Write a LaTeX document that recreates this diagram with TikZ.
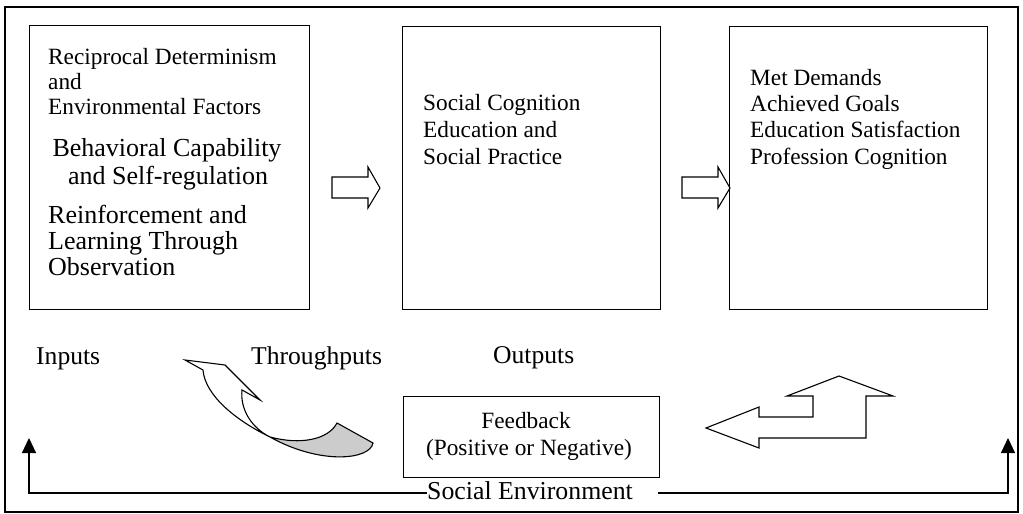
\documentclass[tikz,border=0pt]{standalone}
\usepackage{fontspec}
\setmainfont{Liberation Serif}
\usetikzlibrary{arrows.meta}
\tikzset{
  box/.style={draw, line width=1.3pt, rectangle, inner sep=0pt, anchor=north west},
  ta/.style={inner sep=0pt, anchor=base west, font=\fontsize{23.3}{27}\selectfont},
  tb/.style={inner sep=0pt, anchor=base west, font=\fontsize{26}{28}\selectfont},
  tbc/.style={inner sep=0pt, anchor=base, font=\fontsize{26}{28}\selectfont},
  tc/.style={inner sep=0pt, anchor=base, font=\fontsize{23.3}{27}\selectfont},
  lab/.style={inner sep=0pt, anchor=base west, font=\fontsize{25.6}{28}\selectfont},
  blockarrow/.style={draw, line width=1.1pt, line join=miter, fill=white},
  envline/.style={line width=1.1pt, -{Triangle[width=14pt,length=15pt]}},
}
\begin{document}
\begin{tikzpicture}[x=1pt,y=-1pt]
\useasboundingbox (0,0) rectangle (1023,514);
% outer frame
\draw[line width=1.3pt] (5,7) rectangle (1018,512);
% boxes
\node[box, minimum width=280pt, minimum height=284pt] (inbox) at (29,25) {};
\node[box, minimum width=258pt, minimum height=283pt] (thbox) at (402,26) {};
\node[box, minimum width=258pt, minimum height=283pt] (outbox) at (729,26) {};
\node[box, minimum width=256pt, minimum height=81pt] (fbbox) at (403,396) {};
% input texts
\node[ta] (i1) at (48,64) {Reciprocal Determinism};
\node[ta] (i2) at (48,89) {and};
\node[ta] (i3) at (48,114) {Environmental Factors};
\node[tbc] (i4) at (167,156) {Behavioral Capability};
\node[tbc] (i5) at (168,184) {and Self-regulation};
\node[tb] (i6) at (48,223) {Reinforcement and};
\node[tb] (i7) at (48,249) {Learning Through};
\node[tb] (i8) at (48,275) {Observation};
% throughput texts
\node[ta] (m1) at (423,110) {Social Cognition};
\node[ta] (m2) at (423,137) {Education and};
\node[ta] (m3) at (423,164) {Social Practice};
% output texts
\node[ta] (o1) at (750,85) {Met Demands};
\node[ta] (o2) at (750,111) {Achieved Goals};
\node[ta] (o3) at (750,137) {Education Satisfaction};
\node[ta] (o4) at (750,164) {Profession Cognition};
% labels
\node[lab] (lin) at (36,364) {Inputs};
\node[lab] (lth) at (251,364) {Throughputs};
\node[lab] (lout) at (493,363) {Outputs};
% feedback
\node[tc] (f1) at (526,428) {Feedback};
\node[tc] (f2) at (529,455) {(Positive or Negative)};
% block arrows
\draw[blockarrow] (332,177) -- (368,177) -- (368,167) -- (380,188) -- (368,208) -- (368,198) -- (332,198) -- cycle;
\draw[blockarrow] (682,177) -- (718,177) -- (718,167) -- (730,188) -- (718,208) -- (718,198) -- (682,198) -- cycle;
% U-turn arrow
\draw[blockarrow] (706,428) -- (759,407) -- (759,417) -- (813,417) -- (813,396) -- (787,396) -- (839,376) -- (893,396) -- (866,396) -- (866,438) -- (759,438) -- (759,448) -- cycle;
% curved arrow: shaded underside
\fill[gray!40] (270,437) .. controls (300,445) and (328,440) .. (337,423) -- (373,443) .. controls (370,460) and (320,465) .. (270,437) -- cycle;
\draw[line width=1.1pt, line join=miter]
  (185,360) -- (225,365) -- (260,400) -- (242,390)
  .. controls (240,410) and (252,428) .. (270,437)
  .. controls (300,445) and (328,440) .. (337,423)
  -- (373,443)
  .. controls (370,460) and (320,465) .. (270,437)
  .. controls (235,420) and (205,395) .. (203,370)
  -- cycle;
% social environment
\node[lab, anchor=base, font=\fontsize{25.8}{28}\selectfont] (se) at (530,499) {Social Environment};
\coordinate (la) at (29,438);
\coordinate (ra) at (1008,438);
\draw[envline] ([shift={(0,-6)}]se.base west) -| (la);
\draw[envline] ([shift={(25,-6)}]se.base east) -| (ra);
\end{tikzpicture}
\end{document}
